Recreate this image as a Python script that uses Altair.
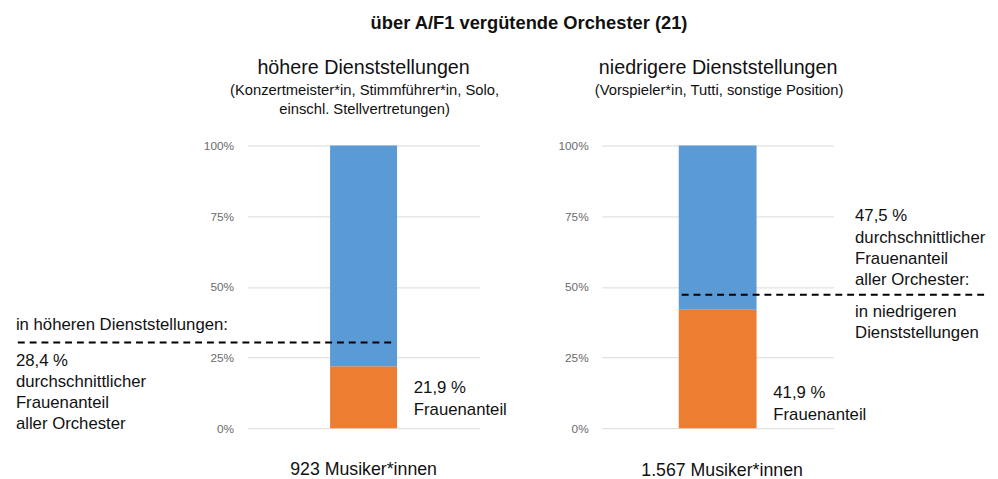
import altair as alt
import pandas as pd

# ---------------- data ----------------
title_text = "über A/F1 vergütende Orchester (21)"
panel_titles = ["höhere Dienststellungen", "niedrigere Dienststellungen"]
panel_subtitles = [
    ["(Konzertmeister*in, Stimmführer*in, Solo,", "einschl. Stellvertretungen)"],
    ["(Vorspieler*in, Tutti, sonstige Position)"],
]
musicians = ["923", "1.567"]
female_share = [21.9, 41.9]
female_share_label = ["21,9 %", "41,9 %"]
avg_share_label = ["28,4 %", "47,5 %"]
avg_line_level = [30.3, 47.2]  # as drawn in the picture
segments = ["Frauen", "Männer"]
colors = ["#ED7D31", "#5B9BD5"]
y_ticks = [0, 25, 50, 75, 100]

FONT = "Liberation Sans"
TXT = "#111111"

y_axis = alt.Axis(
    values=y_ticks, labelExpr="datum.value + '%'", title=None,
    domain=False, ticks=False, tickSize=0, labelPadding=14,
    grid=True, gridColor="#d9d9d9", gridWidth=1,
    labelColor="#6b6b6b", labelFontSize=12, labelFont=FONT,
)
y_scale = alt.Scale(domain=[0, 100], nice=False)


def text_layer(lines, x, y, size, align="left", weight="normal", line_height=21):
    return alt.Chart(pd.DataFrame({"k": [0]})).mark_text(
        text=lines, align=align, baseline="alphabetic", font=FONT,
        fontSize=size, fontWeight=weight, color=TXT, lineHeight=line_height,
    ).encode(x=alt.value(x), y=alt.value(y))


def panel(i, bar_width, rule_x, extra):
    fs = female_share[i]
    bars_df = pd.DataFrame({
        "panel": [panel_titles[i]] * 2,
        "segment": segments,
        "value": [fs, round(100 - fs, 1)],
        "order": [0, 1],
    })
    bars = alt.Chart(bars_df).mark_bar(width=bar_width).encode(
        x=alt.X("panel:N", axis=None),
        y=alt.Y("value:Q", stack="zero", scale=y_scale, axis=y_axis),
        color=alt.Color("segment:N", scale=alt.Scale(domain=segments, range=colors), legend=None),
        order=alt.Order("order:Q"),
    )
    rule = alt.Chart(pd.DataFrame({"level": [avg_line_level[i]]})).mark_rule(
        strokeDash=[7, 5], strokeWidth=2, color="#000000"
    ).encode(
        y=alt.Y("level:Q", scale=y_scale, axis=y_axis),
        x=alt.value(rule_x[0]), x2=alt.value(rule_x[1]),
    )
    layers = [bars, rule,
              text_layer(panel_titles[i], 118, -73, 20, align="center"),
              text_layer(panel_subtitles[i], 119, -51, 15, align="center", line_height=18.5),
              text_layer(f"{musicians[i]} Musiker*innen", 118 + (0 if i == 0 else 4), 334 + (0 if i == 0 else 2), 18, align="center")]
    layers += extra
    return alt.layer(*layers).properties(width=236 if i == 0 else 235, height=287)


left = panel(
    0, 68, (-233, 147),
    [
        text_layer(title_text, 286, -118, 18.6, align="center", weight="bold"),
        text_layer("in höheren Dienststellungen:", -235, 187, 17),
        text_layer([avg_share_label[0], "durchschnittlicher", "Frauenanteil", "aller Orchester"],
                   -235, 224, 17, line_height=21.3),
        text_layer([female_share_label[0], "Frauenanteil"], 169, 251, 17, line_height=22.5),
    ],
)
right = panel(
    1, 79, (81, 393),
    [
        text_layer([avg_share_label[1], "durchschnittlicher", "Frauenanteil", "aller Orchester:"],
                   257, 77, 17, line_height=21.5),
        text_layer(["in niedrigeren", "Dienststellungen"], 257, 174, 17, line_height=21),
        text_layer([female_share_label[1], "Frauenanteil"], 174, 256, 17, line_height=22.5),
    ],
)

chart = alt.hconcat(left, right, spacing=124, bounds="flush").properties(
    padding={"left": 8, "top": 3, "right": 0, "bottom": 0},
    autosize=alt.AutoSizeParams(type="pad"),
).configure_view(stroke=None)

chart.save("out.html", embed_options={"renderer": "svg", "actions": False})
